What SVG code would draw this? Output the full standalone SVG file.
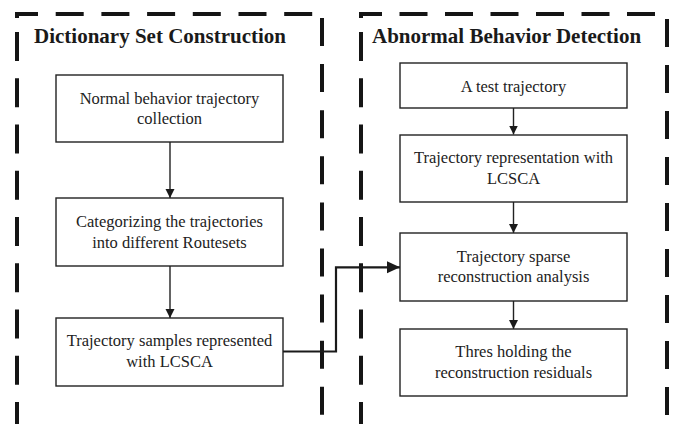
<svg xmlns="http://www.w3.org/2000/svg" width="683" height="424" viewBox="0 0 683 424">
<style>
.dash{fill:none;stroke:#151515;stroke-width:4}
.box{fill:#fff;stroke:#222;stroke-width:1.4}
.t{font-family:"Liberation Serif","Times New Roman",serif;font-size:16.5px;fill:#222;text-anchor:middle}
.title{font-family:"Liberation Serif","Times New Roman",serif;font-size:21px;font-weight:bold;fill:#1a1a1a}
.conn{fill:none;stroke:#222;stroke-width:1.4}
.conn2{fill:none;stroke:#1a1a1a;stroke-width:2.2}
</style>
<defs>
<marker id="ah" markerWidth="10" markerHeight="10" refX="9" refY="4.5" orient="auto" markerUnits="userSpaceOnUse">
<path d="M0,0 L9,4.5 L0,9 Z" fill="#1a1a1a"/>
</marker>
<marker id="ah2" markerWidth="14" markerHeight="14" refX="13" refY="6" orient="auto" markerUnits="userSpaceOnUse">
<path d="M0,0 L13,6 L0,12 Z" fill="#1a1a1a"/>
</marker>
</defs>
<g id="panel-left">
<path class="dash" d="M17,18 V14 H313" stroke-dasharray="25 17.7 28 17.7 28 17.7 28 17.7 28 17.7 28 17.7 28 17.7"/>
<path class="dash" d="M17,32 V424" stroke-dasharray="29 17.25"/>
<path class="dash" d="M322,18 V424" stroke-dasharray="28 18.1"/>
<text class="title" x="34" y="43">Dictionary Set Construction</text>
</g>
<g id="panel-right">
<path class="dash" d="M361,18 V14 H657" stroke-dasharray="25 17.5 28 17.5 28 17.5 28 17.5 28 17.5 28 17.5 28 17.5"/>
<path class="dash" d="M361,32 V424" stroke-dasharray="29 17.25"/>
<path class="dash" d="M667,19 V424" stroke-dasharray="28 18"/>
<text class="title" x="372" y="43">Abnormal Behavior Detection</text>
</g>
<g id="connectors">
<path class="conn" d="M170,142 V198" marker-end="url(#ah)"/>
<path class="conn" d="M170,266 V318" marker-end="url(#ah)"/>
<path class="conn" d="M513.5,108 V134.5" marker-end="url(#ah)"/>
<path class="conn" d="M513.5,202 V233" marker-end="url(#ah)"/>
<path class="conn" d="M513.5,301 V329" marker-end="url(#ah)"/>
<path class="conn2" d="M283,351.5 H336 V267.3 H400" marker-end="url(#ah2)"/>
</g>
<g id="n1">
<rect class="box" x="56" y="75" width="227" height="67"/>
<text class="t" x="169.5" y="104">Normal behavior trajectory</text>
<text class="t" x="169.5" y="124">collection</text>
</g>
<g id="n2">
<rect class="box" x="56" y="198" width="227" height="68"/>
<text class="t" x="169.5" y="227">Categorizing the trajectories</text>
<text class="t" x="169.5" y="248">into different Routesets</text>
</g>
<g id="n3">
<rect class="box" x="56" y="318" width="227" height="68"/>
<text class="t" x="169.5" y="346">Trajectory samples represented</text>
<text class="t" x="169.5" y="367">with LCSCA</text>
</g>
<g id="nA">
<rect class="box" x="400" y="63" width="227" height="45"/>
<text class="t" x="513.5" y="91.5">A test trajectory</text>
</g>
<g id="nB">
<rect class="box" x="400" y="135" width="227" height="67"/>
<text class="t" x="513.5" y="163">Trajectory representation with</text>
<text class="t" x="513.5" y="184">LCSCA</text>
</g>
<g id="nC">
<rect class="box" x="400" y="233" width="227" height="68"/>
<text class="t" x="513.5" y="262">Trajectory sparse</text>
<text class="t" x="513.5" y="282">reconstruction analysis</text>
</g>
<g id="nD">
<rect class="box" x="400" y="329" width="227" height="67"/>
<text class="t" x="513.5" y="357">Thres holding the</text>
<text class="t" x="513.5" y="378">reconstruction residuals</text>
</g>
</svg>
